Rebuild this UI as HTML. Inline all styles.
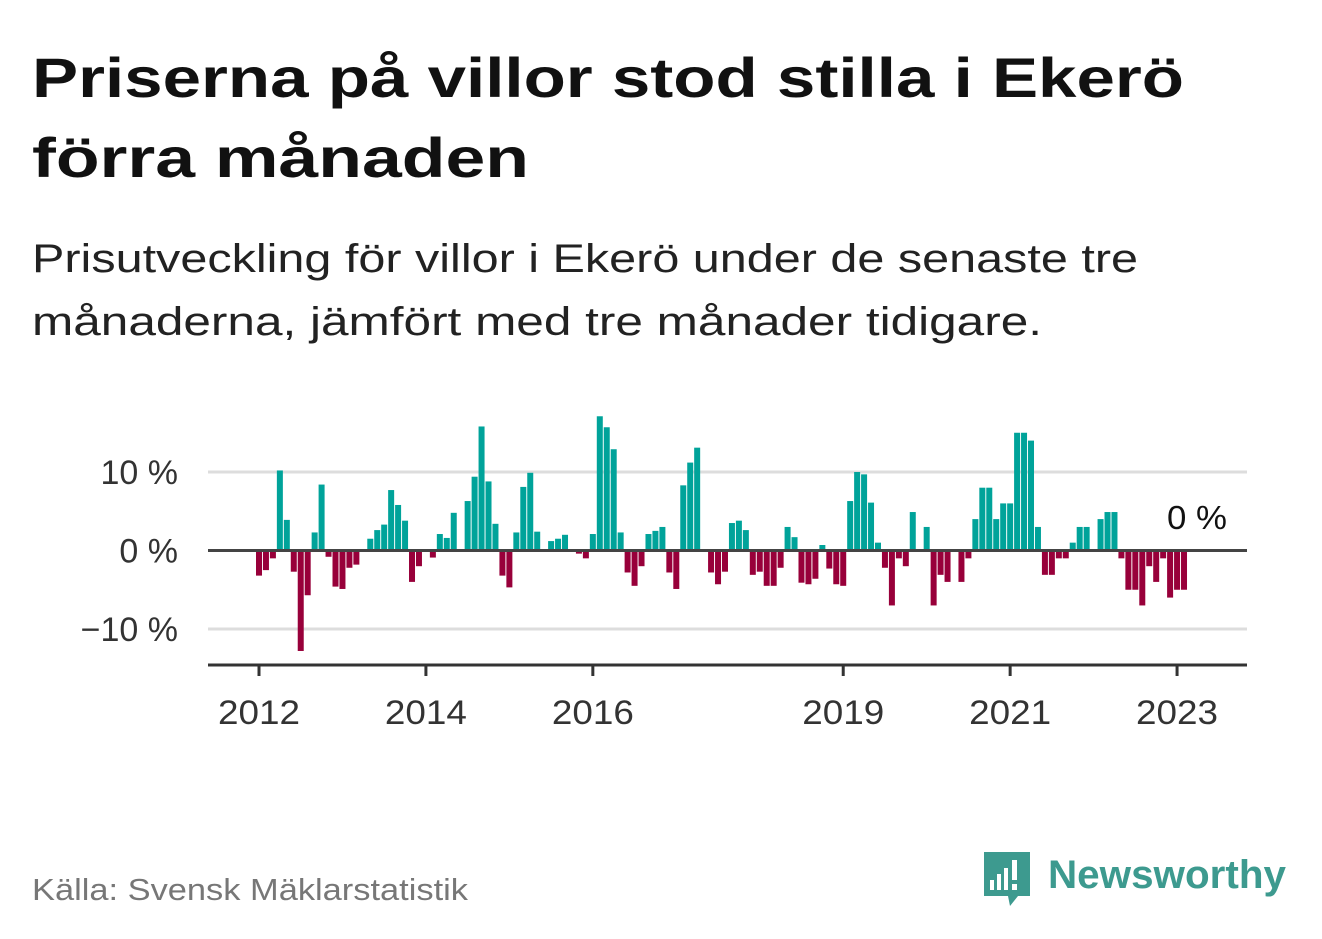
<!DOCTYPE html>
<html><head><meta charset="utf-8"><style>
body{margin:0;background:#fff;}
svg{display:block;font-family:"Liberation Sans",sans-serif;}
</style></head><body>
<svg id="chart" width="1322" height="939" viewBox="0 0 1322 939" xmlns="http://www.w3.org/2000/svg">
<text x="32" y="97" font-size="56" font-weight="bold" fill="#111" textLength="1152" lengthAdjust="spacingAndGlyphs">Priserna på villor stod stilla i Ekerö</text>
<text x="32" y="177" font-size="56" font-weight="bold" fill="#111" textLength="497" lengthAdjust="spacingAndGlyphs">förra månaden</text>
<text x="32" y="272" font-size="40" fill="#222" textLength="1106" lengthAdjust="spacingAndGlyphs">Prisutveckling för villor i Ekerö under de senaste tre</text>
<text x="32" y="335" font-size="40" fill="#222" textLength="1010" lengthAdjust="spacingAndGlyphs">månaderna, jämfört med tre månader tidigare.</text>
<g id="grid"></g>
<g id="bars"></g>
<g id="axes"></g>
<text x="1197" y="529" font-size="33" fill="#111" text-anchor="middle" textLength="60" lengthAdjust="spacingAndGlyphs">0 %</text>
<text x="32" y="900" font-size="31" fill="#777" textLength="436" lengthAdjust="spacingAndGlyphs">Källa: Svensk Mäklarstatistik</text>
<g>
<path d="M984 852 h46 v44 h-12 l-8 10 l-2 -10 h-24 z" fill="#3d9a8f"/>
<rect x="990" y="880" width="4" height="10" fill="#fff"/>
<rect x="997" y="874" width="4" height="16" fill="#fff"/>
<rect x="1004" y="868" width="4" height="22" fill="#fff"/>
<rect x="1012" y="860" width="5" height="20" fill="#fff"/>
<rect x="1012" y="884" width="5" height="6" fill="#fff"/>
<text x="1048" y="888" font-size="40" font-weight="bold" fill="#3d9a8f" textLength="238" lengthAdjust="spacingAndGlyphs">Newsworthy</text>
</g>
</svg>
<script>
const startYear = 2012;
const values = [-3.2,-2.5,-1.0,10.2,3.9,-2.7,-12.8,-5.7,2.3,8.4,-0.8,-4.6,
-4.9,-2.2,-1.8,0,1.5,2.6,3.3,7.7,5.8,3.8,-4.0,-2.0,
0,-0.9,2.1,1.6,4.8,0,6.3,9.4,15.8,8.8,3.4,-3.2,
-4.7,2.3,8.1,9.9,2.4,0,1.2,1.5,2.0,0,-0.4,-1.0,
2.1,17.1,15.7,12.9,2.3,-2.8,-4.5,-2.0,2.1,2.5,3.0,-2.8,
-4.9,8.3,11.2,13.1,0,-2.8,-4.3,-2.7,3.5,3.8,2.6,-3.1,
-2.7,-4.5,-4.5,-2.2,3.0,1.7,-4.1,-4.3,-3.6,0.7,-2.3,-4.3,
-4.5,6.3,10.0,9.7,6.1,1.0,-2.2,-7.0,-1.0,-2.0,4.9,0,
3.0,-7.0,-3.1,-4.0,0,-4.0,-1.0,4.0,8.0,8.0,4.0,6.0,
6.0,15.0,15.0,14.0,3.0,-3.1,-3.1,-1.0,-1.0,1.0,3.0,3.0,
0,4.0,4.9,4.9,-1.0,-5.0,-5.0,-7.0,-2.0,-4.0,-1.0,-6.0,
-5.0,-5.0];
const yTicks = [10, 0, -10];
const yTickLabels = ["10 %", "0 %", "−10 %"];
const xTickYears = [2012, 2014, 2016, 2019, 2021, 2023];

const NS = "http://www.w3.org/2000/svg";
const x = i => 259 + i * 6.955;
const y = v => 550.5 - v * 7.85;
const X0 = 208, X1 = 1247;
function mk(tag, attrs, parent){const e=document.createElementNS(NS,tag);for(const k in attrs)e.setAttribute(k,attrs[k]);parent.appendChild(e);return e;}
const grid=document.getElementById('grid'), bars=document.getElementById('bars'), axes=document.getElementById('axes');
yTicks.forEach((t,k)=>{
  if(t!==0){const l=mk('line',{x1:X0,x2:X1,y1:y(t),y2:y(t),stroke:'#ddd','stroke-width':3},grid);
  
  }
  const tx=mk('text',{x:178,y:y(t)+12,'font-size':34,fill:'#333','text-anchor':'end'},grid);
  tx.textContent=yTickLabels[k];
  
  
});
values.forEach((v,i)=>{
  if(v===0)return;
  const top=v>0?y(v):y(0), h=Math.abs(y(v)-y(0));
  const r=mk('rect',{x:x(i)-3,y:top,width:6,height:h,fill:v>0?'#00a39a':'#98003a'},bars);
  
  
});
const zl=mk('line',{x1:X0,x2:X1,y1:y(0),y2:y(0),stroke:'#444','stroke-width':3},axes);


const xl=mk('line',{x1:X0,x2:X1,y1:665,y2:665,stroke:'#333','stroke-width':3},axes);


xTickYears.forEach(yr=>{
  const px=x((yr-startYear)*12);
  const t=mk('line',{x1:px,x2:px,y1:665,y2:676,stroke:'#333','stroke-width':3},axes);
  
  
  const tx=mk('text',{x:px,y:724,'font-size':34,fill:'#333','text-anchor':'middle',textLength:82,lengthAdjust:'spacingAndGlyphs'},axes);
  tx.textContent=String(yr);
  
  
});
</script>
</body></html>
